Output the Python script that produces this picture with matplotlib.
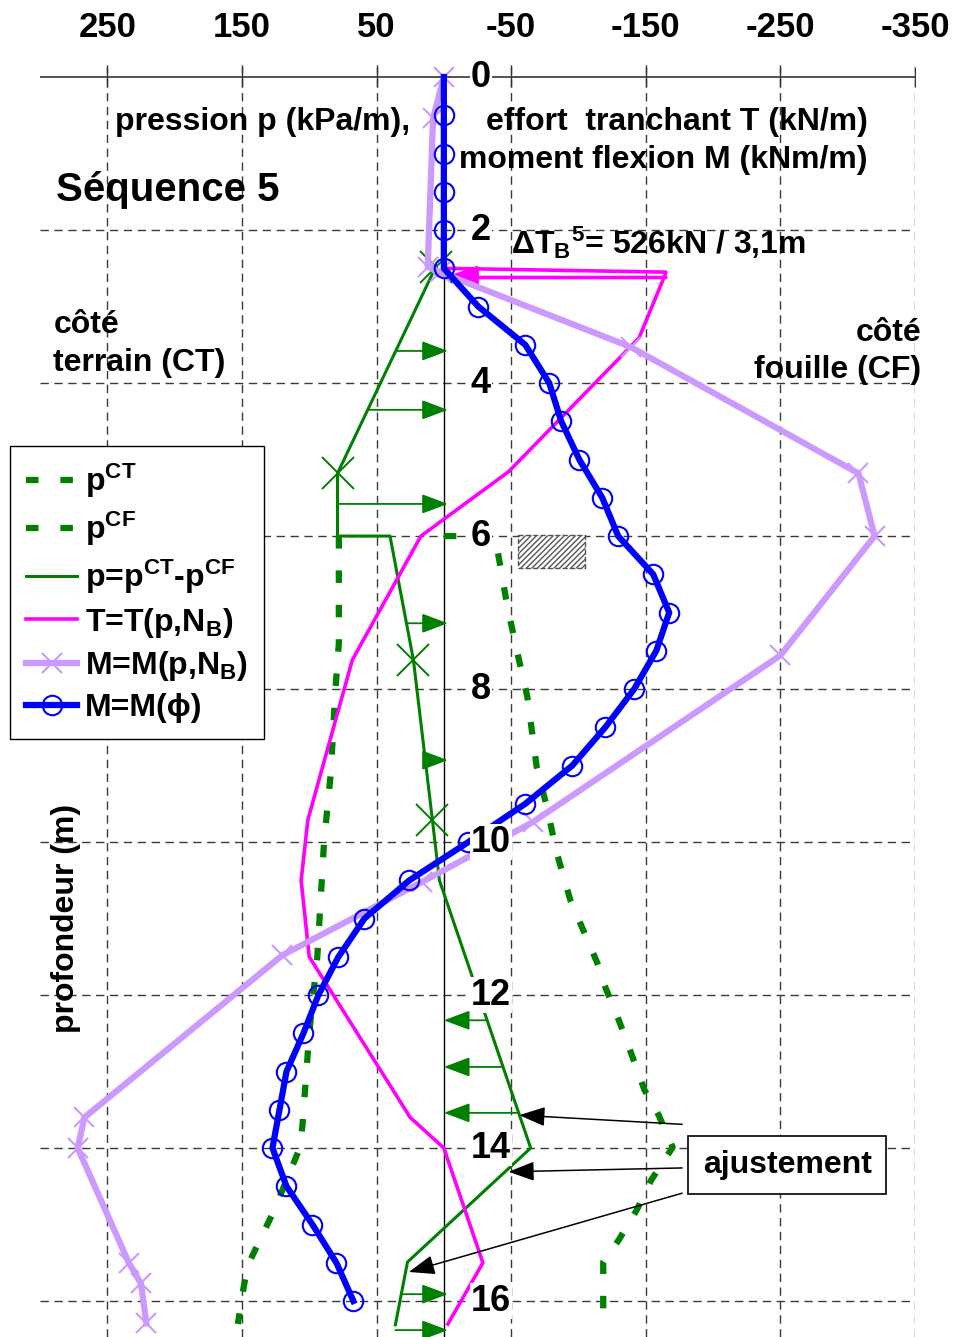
import numpy as np
import matplotlib
matplotlib.use("Agg")
import matplotlib.pyplot as plt
from matplotlib.patches import Rectangle

plt.rcParams['font.family'] = ['Liberation Sans', 'DejaVu Sans']
plt.rcParams['font.weight'] = 'bold'
plt.rcParams['mathtext.fontset'] = 'custom'
plt.rcParams['mathtext.bf'] = 'Liberation Sans:bold'
plt.rcParams['mathtext.rm'] = 'Liberation Sans:bold'
plt.rcParams['mathtext.default'] = 'bf'
plt.rcParams['hatch.color'] = '#777777'

# ---- data (depth in m, values in kPa/m, kN/m, kNm/m) ----
x_ticks = [250, 150, 50, -50, -150, -250, -350]
depth_ticks = [0, 2, 4, 6, 8, 10, 12, 14, 16]

# M = M(phi), blue with circles
z_mphi = np.arange(0, 16.01, 0.5)
m_phi = [0, 0, 0, 0, 0, 0, -25.6, -60.5, -78.3, -87.2, -100.6, -117.7, -129.5,
         -155.5, -167.4, -157.8, -141.4, -119.9, -95.4, -60.5, -18.2, 25.6,
         59.0, 78.3, 93.2, 104.3, 116.9, 122.1, 127.3, 116.9, 97.6, 79.8, 67.2]

# M = M(p, NB), lavender with crosses
z_mp = [0, 0.54, 2.48, 2.55, 3.53, 5.18, 6.0, 7.56, 9.74, 10.52, 11.48,
        13.6, 14.0, 15.5, 15.77, 16.29]
m_p = [0, 8, 12, 3, -139, -308, -320, -250, -66, 16, 120,
       267, 272, 234, 225, 221]

# T = T(p, NB), magenta
z_t = [0, 2.5, 2.55, 2.6, 3.41, 5.16, 6.0, 7.62, 9.71, 10.5, 11.5, 13.6,
       14.0, 15.5, 16.3]
t_p = [0, 0, -165, -164, -145, -48, 17, 68, 101, 106, 100, 25, 0, -29, -3]
delta_t_depth = 2.62

# p = pCT - pCF, green solid
z_p = [2.48, 5.18, 6.0, 6.0, 7.62, 9.71, 10.5, 14.0, 15.49, 16.31]
p_net = [6, 79, 79, 40, 22.6, 8.5, 3.3, -64.5, 27, 36]
p_marks = [0, 1, 4, 5]

# pCT, green dashed
z_ct = [6.0, 7.4, 8.0, 9.1, 10.0, 11.5, 12.5, 13.7, 14.0, 14.85, 15.25,
        15.55, 15.85, 16.3]
p_ct = [78, 78, 80.5, 84, 89, 94, 100, 105, 107, 127, 138, 146, 149, 153]

# pCF, green dashed
z_cf = [6.0, 6.0, 6.9, 7.4, 8.1, 9.02, 9.54, 10.15, 10.76, 11.58, 11.9,
        12.33, 12.85, 13.24, 13.57, 13.99, 14.42, 14.8, 15.2, 15.49, 16.0, 16.3]
p_cf = [0, -38, -47, -53, -62, -69, -76.5, -84, -94, -114, -120,
        -130, -141, -149, -159.6, -170, -154, -143.6, -130, -118.4, -118.4, -118.4]

# pressure arrows
arrow_depths_right = [3.58, 4.35, 5.58, 7.14, 8.93, 15.91, 16.38]
arrow_depths_left = [12.33, 12.94, 13.54]

# "ajustement" arrows: (tip value, tip depth, tail depth)
adjust_tips = [(-56, 13.57, 13.69), (-48, 14.31, 14.26), (26, 15.62, 14.59)]

fig = plt.figure(figsize=(9.56, 13.37), dpi=100)
ax = fig.add_axes([40 / 956, 0, 875 / 956, 1276 / 1337])
ax.set_xlim(300, -350)
ax.set_ylim(16.47, -0.21)
for s in ax.spines.values():
    s.set_visible(False)

ax.set_xticks(x_ticks)
ax.set_xticklabels([str(v) for v in x_ticks])
ax.xaxis.set_ticks_position('top')
ax.tick_params(axis='x', length=0, pad=12, labelsize=25)
ax.set_yticks([])

# grid
grid_kw = dict(color='#3a3a3a', lw=1.0, linestyle=(0, (6, 4)), zorder=1)
for v in x_ticks:
    ax.axvline(v, **grid_kw)
for d in depth_ticks[1:]:
    ax.axhline(d, **grid_kw)
ax.axhline(0, color='#333333', lw=1.2, zorder=1)
ax.plot([0, 0], [0, 16.47], color='black', lw=1.0, zorder=1)
ax.plot(x_ticks, [0] * len(x_ticks), '|', ms=14, mew=1.0, color='#333333', zorder=1)

# curves
ax.plot(p_ct, z_ct, color='green', lw=4.5, dashes=(2, 3.5), zorder=3,
        label='p$^{CT}$')
ax.plot(p_cf, z_cf, color='green', lw=4.5, dashes=(2, 3.5), zorder=3,
        label='p$^{CF}$')
ax.plot(p_net, z_p, color='green', lw=2.2, zorder=4, label='p=p$^{CT}$-p$^{CF}$')
ax.plot([p_net[i] for i in p_marks], [z_p[i] for i in p_marks], 'x',
        color='green', ms=23, mew=1.4, zorder=4)
ax.plot(t_p, z_t, color='#ff00ff', lw=2.6, zorder=5, label='T=T(p,N$_{B}$)')
ax.plot(m_p, z_mp, color='#cc99ff', lw=4.5, marker='x', ms=14, mew=1.5,
        zorder=6, label='M=M(p,N$_{B}$)')
ax.plot(m_phi, z_mphi, color='#0000ff', lw=4.5, marker='o', ms=14, mew=1.5,
        mfc='none', markevery=slice(1, None), zorder=7, label='M=M(ϕ)')

# Delta T jump arrow
ax.annotate('', xy=(0, delta_t_depth), xytext=(t_p[2], delta_t_depth),
            arrowprops=dict(arrowstyle='-|>,head_length=1.0,head_width=0.35',
                            color='#ff00ff', lw=2.6, shrinkA=0, shrinkB=0,
                            mutation_scale=20), zorder=5)

# pressure arrows
def p_at(d):
    return np.interp(d, z_p, p_net)

for d in arrow_depths_right:
    ax.annotate('', xy=(-3, d), xytext=(p_at(d), d),
                arrowprops=dict(arrowstyle='-|>,head_length=0.8,head_width=0.3',
                                color='green', lw=1.3, shrinkA=0, shrinkB=0,
                                mutation_scale=20), zorder=4)
for d in arrow_depths_left:
    ax.annotate('', xy=(0, d), xytext=(p_at(d), d),
                arrowprops=dict(arrowstyle='-|>,head_length=0.8,head_width=0.3',
                                color='green', lw=1.3, shrinkA=0, shrinkB=0,
                                mutation_scale=20), zorder=4)

# strut symbol
ax.add_patch(Rectangle((-55.3, 5.99), -49.7, 0.43, facecolor='white',
                       edgecolor='#555555', lw=1.0, linestyle='--',
                       hatch='//////', zorder=3))

# depth labels
for d in depth_ticks:
    ax.text(-20, d, str(d), ha='left', va='center', fontsize=26,
            fontweight='bold', zorder=9,
            bbox=dict(facecolor='white', edgecolor='none', pad=0.5))

# texts
fs = 23
ax.text(288, 1.48, 'Séquence 5', fontsize=29, ha='left', va='center')
ax.text(244.6, 0.59, 'pression p (kPa/m),', fontsize=fs, ha='left', va='center')
ax.text(-315, 0.59, 'effort  tranchant T (kN/m)', fontsize=fs, ha='right', va='center')
ax.text(-315, 1.08, 'moment flexion M (kNm/m)', fontsize=fs, ha='right', va='center')
ax.text(-50, 2.17, 'ΔT$_{B}$$^{5}$= 526kN / 3,1m', fontsize=fs, ha='left', va='center')
ax.text(290, 3.24, 'côté', fontsize=fs, ha='left', va='center')
ax.text(290, 3.74, 'terrain (CT)', fontsize=fs, ha='left', va='center')
ax.text(-354.5, 3.35, 'côté', fontsize=fs, ha='right', va='center')
ax.text(-354.5, 3.83, 'fouille (CF)', fontsize=fs, ha='right', va='center')
ax.text(281, 11.0, 'profondeur (m)', fontsize=fs, rotation=90, ha='center', va='center')

# ajustement box and arrows
ax.text(-255, 14.22, 'ajustement', fontsize=fs, ha='center', va='center', zorder=8,
        bbox=dict(boxstyle='square,pad=0.45', facecolor='white', edgecolor='black', lw=1.2))
for tip_v, tip_d, tail_d in adjust_tips:
    ax.annotate('', xy=(tip_v, tip_d), xytext=(-177, tail_d),
                arrowprops=dict(arrowstyle='-|>,head_length=0.8,head_width=0.3',
                                color='black', lw=1.1, shrinkA=0, shrinkB=0,
                                mutation_scale=20), zorder=8)

leg = ax.legend(loc='upper left', bbox_to_anchor=(10 / 956, 1 - 446 / 1337),
                bbox_transform=fig.transFigure, fontsize=fs, frameon=True,
                fancybox=False, edgecolor='black', framealpha=1, numpoints=1,
                handlelength=1.6, handletextpad=0.25, labelspacing=0.3,
                borderpad=0.5, borderaxespad=0)
leg.get_frame().set_linewidth(1.0)
leg.set_zorder(10)

fig.savefig('out.png', dpi=100)
